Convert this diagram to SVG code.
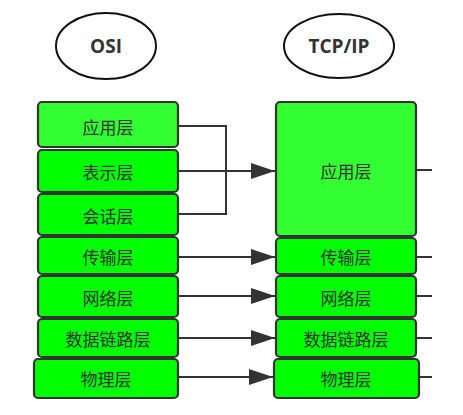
<svg xmlns="http://www.w3.org/2000/svg" width="463" height="415" viewBox="0 0 463 415">
<defs>
<style>
.ell{fill:#fff;stroke:#111;stroke-width:2}
.hd{font-family:"Open Sans","DejaVu Sans",sans-serif;font-weight:bold;font-size:19px;fill:#333;text-anchor:middle;dominant-baseline:central}
.box{stroke:#333;stroke-width:2.2}
.a{fill:#33FF33}
.b{fill:#00FF00}
.t{font-family:"Noto Sans CJK SC","Noto Sans",sans-serif;font-size:17px;fill:#333;text-anchor:middle;dominant-baseline:central}
.ln{stroke:#333;stroke-width:2;fill:none}
</style>
<marker id="ar" markerWidth="24" markerHeight="16" refX="24" refY="8" orient="auto" markerUnits="userSpaceOnUse" viewBox="0 0 24 16">
<path d="M0,0 L24,8 L0,16 Z" fill="#333"/>
</marker>
</defs>
<g id="osi"><ellipse class="ell" cx="106" cy="46" rx="50" ry="33"/><text class="hd" x="106" y="46">OSI</text></g>
<g id="tcpip"><ellipse class="ell" cx="339" cy="46" rx="55" ry="32"/><text class="hd" x="339" y="46">TCP/IP</text></g>
<g id="connectors">
<polyline class="ln" points="178,126 226,126 226,214 178,214"/>
<line class="ln" x1="178" y1="171" x2="275" y2="171" marker-end="url(#ar)"/>
<line class="ln" x1="178" y1="257" x2="275" y2="257" marker-end="url(#ar)"/>
<line class="ln" x1="178" y1="296" x2="275" y2="296" marker-end="url(#ar)"/>
<line class="ln" x1="178" y1="338" x2="275" y2="338" marker-end="url(#ar)"/>
<line class="ln" x1="178" y1="377" x2="273" y2="377" marker-end="url(#ar)"/>
<line class="ln" x1="416" y1="170" x2="432" y2="170"/>
<line class="ln" x1="416" y1="257" x2="432" y2="257"/>
<line class="ln" x1="416" y1="296" x2="432" y2="296"/>
<line class="ln" x1="416" y1="338" x2="432" y2="338"/>
<line class="ln" x1="419" y1="377" x2="432" y2="377"/>
</g>
<g id="osi-app"><rect class="box a" x="38" y="102" width="140" height="45" rx="4"/><text class="t" x="108" y="126">应用层</text></g>
<g id="osi-pres"><rect class="box b" x="38" y="150" width="140" height="42" rx="4"/><text class="t" x="108" y="171">表示层</text></g>
<g id="osi-sess"><rect class="box b" x="38" y="194" width="140" height="41" rx="4"/><text class="t" x="108" y="215">会话层</text></g>
<g id="osi-trans"><rect class="box b" x="38" y="237" width="140" height="37" rx="4"/><text class="t" x="108" y="256">传输层</text></g>
<g id="osi-net"><rect class="box b" x="38" y="276" width="140" height="41" rx="4"/><text class="t" x="108" y="297">网络层</text></g>
<g id="osi-link"><rect class="box b" x="38" y="319" width="140" height="38" rx="4"/><text class="t" x="108" y="338">数据链路层</text></g>
<g id="osi-phys"><rect class="box b" x="34" y="359" width="144" height="39" rx="4"/><text class="t" x="106" y="378">物理层</text></g>
<g id="tcp-app"><rect class="box a" x="276" y="102" width="140" height="134" rx="4"/><text class="t" x="346" y="170">应用层</text></g>
<g id="tcp-trans"><rect class="box b" x="276" y="238" width="140" height="36" rx="4"/><text class="t" x="346" y="256">传输层</text></g>
<g id="tcp-net"><rect class="box b" x="276" y="276" width="140" height="41" rx="4"/><text class="t" x="346" y="297">网络层</text></g>
<g id="tcp-link"><rect class="box b" x="276" y="319" width="140" height="38" rx="4"/><text class="t" x="346" y="338">数据链路层</text></g>
<g id="tcp-phys"><rect class="box b" x="274" y="359" width="145" height="39" rx="4"/><text class="t" x="346" y="378">物理层</text></g>
</svg>
